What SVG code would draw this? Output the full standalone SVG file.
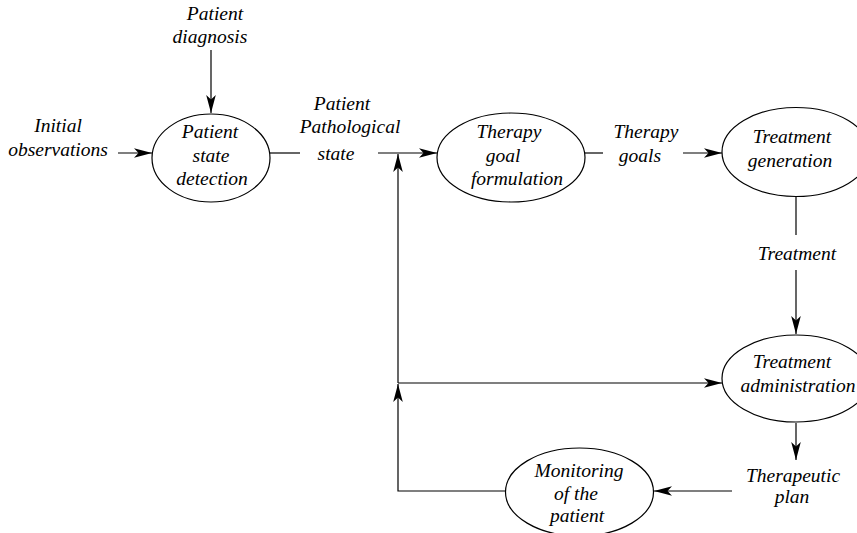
<svg xmlns="http://www.w3.org/2000/svg" width="857" height="533" viewBox="0 0 857 533">
<style>
text{font-family:"Liberation Serif","Times New Roman",serif;font-style:italic;font-size:19.5px;fill:#000;text-anchor:middle}
.n ellipse{fill:#fff;stroke:#000;stroke-width:1.2}
.c line,.c polyline{stroke:#000;stroke-width:1.2;fill:none}
</style>
<defs>
<marker id="ah" markerUnits="userSpaceOnUse" markerWidth="22" markerHeight="12" refX="18" refY="5" orient="auto">
<path d="M0,0.2 L18,5 L0,9.8 L4.5,5 Z" fill="#000"/>
</marker>
</defs>
<rect width="857" height="533" fill="#fff"/>
<g class="c" id="connectors">
<line x1="211" y1="50" x2="211" y2="113" marker-end="url(#ah)"/>
<line x1="118" y1="153" x2="152" y2="153" marker-end="url(#ah)"/>
<line x1="270" y1="153" x2="300" y2="153"/>
<line x1="378" y1="153" x2="437" y2="153" marker-end="url(#ah)"/>
<line x1="584" y1="153" x2="603" y2="153"/>
<line x1="683" y1="153" x2="722" y2="153" marker-end="url(#ah)"/>
<line x1="796" y1="197" x2="796" y2="235"/>
<line x1="796" y1="270" x2="796" y2="334" marker-end="url(#ah)"/>
<line x1="796" y1="423" x2="796" y2="460" marker-end="url(#ah)"/>
<line x1="732" y1="491" x2="654" y2="491" marker-end="url(#ah)"/>
<polyline points="506,491 398,491 398,384" marker-end="url(#ah)"/>
<line x1="398" y1="383" x2="722" y2="383" marker-end="url(#ah)"/>
<line x1="398" y1="383" x2="398" y2="154" marker-end="url(#ah)"/>
</g>
<g id="patient-state-detection" class="n">
<ellipse cx="211" cy="158" rx="59" ry="44"/>
<text x="210" y="138">Patient</text>
<text x="211" y="162">state</text>
<text x="212" y="185">detection</text>
</g>
<g id="therapy-goal-formulation" class="n">
<ellipse cx="511" cy="157.5" rx="74" ry="44.5"/>
<text x="509" y="138">Therapy</text>
<text x="503" y="162">goal</text>
<text x="517" y="185">formulation</text>
</g>
<g id="treatment-generation" class="n">
<ellipse cx="796" cy="152" rx="74" ry="44.5"/>
<text x="792" y="143">Treatment</text>
<text x="790" y="167">generation</text>
</g>
<g id="treatment-administration" class="n">
<ellipse cx="796" cy="378.5" rx="74" ry="43.5"/>
<text x="792" y="368">Treatment</text>
<text x="798" y="392">administration</text>
</g>
<g id="monitoring" class="n">
<ellipse cx="579.5" cy="492" rx="74" ry="44"/>
<text x="579" y="477">Monitoring</text>
<text x="576" y="500">of the</text>
<text x="577" y="522">patient</text>
</g>
<g id="labels">
<text x="215" y="20">Patient</text>
<text x="210" y="43">diagnosis</text>
<text x="58" y="132">Initial</text>
<text x="58" y="156">observations</text>
<text x="342" y="110">Patient</text>
<text x="350" y="133">Pathological</text>
<text x="336" y="160">state</text>
<text x="646" y="138">Therapy</text>
<text x="640" y="162">goals</text>
<text x="797" y="260">Treatment</text>
<text x="793" y="482">Therapeutic</text>
<text x="792" y="503">plan</text>
</g>
</svg>
